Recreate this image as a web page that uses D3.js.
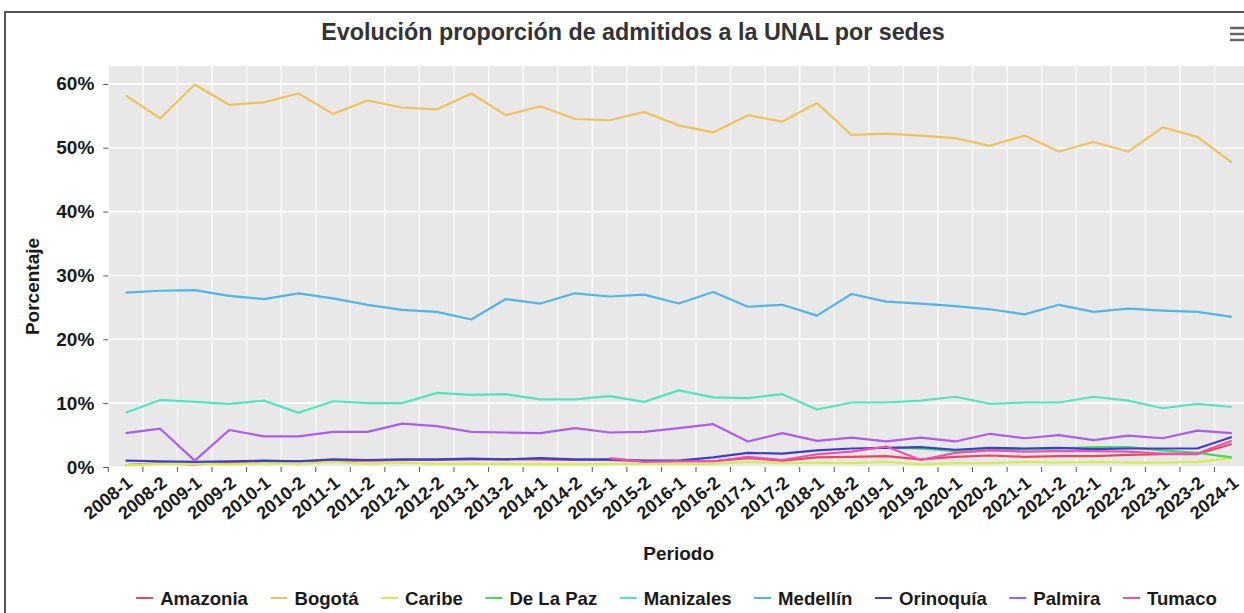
<!DOCTYPE html>
<html>
<head>
<meta charset="utf-8">
<script src="https://cdn.jsdelivr.net/npm/d3@7"></script>
<style>
  body { margin: 0; background: #fff; }
  svg { display: block; font-family: "Liberation Sans", Arial, sans-serif; }
</style>
</head>
<body>
<script>
// periodos academicos
var periods = ["2008-1","2008-2","2009-1","2009-2","2010-1","2010-2","2011-1","2011-2",
  "2012-1","2012-2","2013-1","2013-2","2014-1","2014-2","2015-1","2015-2","2016-1","2016-2",
  "2017-1","2017-2","2018-1","2018-2","2019-1","2019-2","2020-1","2020-2","2021-1","2021-2",
  "2022-1","2022-2","2023-1","2023-2","2024-1"];

// porcentaje de admitidos por sede
var amazonia = [0.3,0.6,0.4,0.7,0.8,0.9,1.0,1.0,1.1,1.1,1.2,1.2,1.2,1.1,1.1,0.9,0.9,0.9,
  1.4,1.0,1.5,1.6,1.7,1.2,1.6,1.8,1.6,1.7,1.7,1.9,2.0,2.0,3.6];
var bogota = [58.2,54.6,59.9,56.7,57.1,58.5,55.3,57.4,56.3,56.0,58.5,55.1,56.5,54.5,54.3,55.6,
  53.5,52.4,55.1,54.1,57.0,52.0,52.2,51.9,51.5,50.3,51.9,49.4,50.9,49.4,53.2,51.7,47.7];
var caribe = [0.3,0.5,0.5,0.4,0.6,0.5,0.8,0.5,0.7,0.5,0.5,0.5,0.4,0.4,0.5,0.5,0.5,0.5,
  0.8,0.6,0.7,0.6,0.8,0.4,0.6,0.6,0.8,0.7,0.8,0.7,0.7,0.8,1.4];
var delapaz = [null,null,null,null,null,null,null,null,null,null,null,null,null,null,null,null,
  null,null,null,null,null,null,3.0,2.9,2.5,2.7,2.8,2.9,3.1,3.1,2.6,2.2,1.5];
var manizales = [8.5,10.5,10.2,9.9,10.4,8.5,10.3,10.0,10.0,11.6,11.3,11.4,10.6,10.6,11.1,10.2,
  12.0,10.9,10.8,11.4,9.0,10.1,10.1,10.4,11.0,9.9,10.1,10.1,11.0,10.4,9.2,9.9,9.4];
var medellin = [27.3,27.6,27.7,26.8,26.3,27.2,26.4,25.4,24.6,24.3,23.1,26.3,25.6,27.2,26.7,27.0,
  25.6,27.4,25.1,25.4,23.7,27.1,25.9,25.6,25.2,24.7,23.9,25.4,24.3,24.8,24.5,24.3,23.5];
var orinoquia = [1.0,0.9,0.8,0.9,1.0,0.9,1.2,1.1,1.2,1.2,1.3,1.2,1.4,1.2,1.2,1.0,1.0,1.5,
  2.2,2.1,2.6,2.9,3.0,3.1,2.7,3.0,2.9,3.0,2.8,2.9,2.9,2.9,4.7];
var palmira = [5.3,6.0,1.0,5.8,4.8,4.8,5.5,5.5,6.8,6.4,5.5,5.4,5.3,6.1,5.4,5.5,6.1,6.7,
  4.0,5.3,4.1,4.6,4.0,4.6,4.0,5.2,4.5,5.0,4.2,4.9,4.5,5.7,5.3];
var tumaco = [null,null,null,null,null,null,null,null,null,null,null,null,null,null,1.4,0.8,
  0.9,0.9,1.6,1.1,2.0,2.4,3.2,1.1,2.2,2.6,2.4,2.5,2.5,2.4,2.1,2.1,4.1];

var yTicks = [0, 10, 20, 30, 40, 50, 60];

var series = [
  { name: "Amazonia",  color: "#e8475f", values: amazonia },
  { name: "Bogotá",    color: "#f0c25a", values: bogota },
  { name: "Caribe",    color: "#d6ee4a", values: caribe },
  { name: "De La Paz", color: "#3fdc62", values: delapaz },
  { name: "Manizales", color: "#4fe6bf", values: manizales },
  { name: "Medellín",  color: "#4fb6e8", values: medellin },
  { name: "Orinoquía", color: "#3b3fcf", values: orinoquia },
  { name: "Palmira",   color: "#ad5cf0", values: palmira },
  { name: "Tumaco",    color: "#ee50b8", values: tumaco }
];

var width = 1244, height = 613;
var plotLeft = 108.3, plotRight = 1249.1, plotTop = 66, plotBottom = 467;

var svg = d3.select("body").append("svg")
  .attr("width", width)
  .attr("height", height);

// marco
svg.append("rect")
  .attr("x", 5).attr("y", 12)
  .attr("width", 1300).attr("height", 700)
  .attr("fill", "none")
  .attr("stroke", "#555")
  .attr("stroke-width", 2);

var x = d3.scaleBand().domain(periods).range([plotLeft, plotRight]);
var y = d3.scaleLinear().domain([0, 62.8]).range([plotBottom, plotTop]);

// fondo del area
svg.append("rect")
  .attr("x", plotLeft).attr("y", plotTop)
  .attr("width", plotRight - plotLeft).attr("height", plotBottom - plotTop)
  .attr("fill", "#e8e8e8");

var edges = periods.map(function(p) { return x(p); }).concat([plotRight]);

svg.append("g").selectAll("line")
  .data(edges)
  .enter().append("line")
  .attr("x1", function(d) { return d; })
  .attr("x2", function(d) { return d; })
  .attr("y1", plotTop).attr("y2", plotBottom)
  .attr("stroke", "#fff")
  .attr("stroke-width", 1.2);

svg.append("g").selectAll("line")
  .data(yTicks)
  .enter().append("line")
  .attr("x1", plotLeft).attr("x2", plotRight)
  .attr("y1", function(d) { return y(d); })
  .attr("y2", function(d) { return y(d); })
  .attr("stroke", "#fff")
  .attr("stroke-width", 1.6);

// eje y
var yAxis = svg.append("g")
  .attr("transform", "translate(" + plotLeft + ",0)")
  .call(d3.axisLeft(y).tickValues(yTicks).tickSize(5).tickPadding(9)
    .tickFormat(function(d) { return d + "%"; }));
yAxis.select(".domain").remove();
yAxis.selectAll("line").attr("stroke", "#555");
yAxis.selectAll("text")
  .attr("font-size", 19)
  .attr("font-weight", "bold")
  .attr("fill", "#1a1a1a")
  .attr("font-family", "Liberation Sans, Arial, sans-serif");

// eje x
svg.append("g").selectAll("line")
  .data(edges)
  .enter().append("line")
  .attr("x1", function(d) { return d; })
  .attr("x2", function(d) { return d; })
  .attr("y1", plotBottom).attr("y2", plotBottom + 5)
  .attr("stroke", "#555");

var xAxis = svg.append("g")
  .attr("transform", "translate(0," + plotBottom + ")")
  .call(d3.axisBottom(x).tickSize(0).tickPadding(0));
xAxis.select(".domain").remove();
xAxis.selectAll("text")
  .attr("y", 0).attr("dy", "0.35em")
  .attr("text-anchor", "end")
  .attr("transform", "translate(4,13) rotate(-39)")
  .attr("font-size", 18)
  .attr("font-weight", "bold")
  .attr("fill", "#1a1a1a")
  .attr("font-family", "Liberation Sans, Arial, sans-serif");

// lineas
var line = d3.line()
  .defined(function(d) { return d != null; })
  .x(function(d, i) { return x(periods[i]) + x.bandwidth() / 2; })
  .y(function(d) { return y(d); });

svg.append("g").selectAll("path")
  .data(series)
  .enter().append("path")
  .attr("d", function(s) { return line(s.values); })
  .attr("fill", "none")
  .attr("stroke", function(s) { return s.color; })
  .attr("stroke-width", 2.2)
  .attr("stroke-linejoin", "round");

// titulos
svg.append("text")
  .attr("x", 633).attr("y", 40)
  .attr("text-anchor", "middle")
  .attr("font-size", 23.3)
  .attr("font-weight", "bold")
  .attr("fill", "#333")
  .text("Evolución proporción de admitidos a la UNAL por sedes");

svg.append("text")
  .attr("transform", "translate(39," + ((plotTop + plotBottom) / 2 + 20) + ") rotate(-90)")
  .attr("text-anchor", "middle")
  .attr("font-size", 19)
  .attr("font-weight", "bold")
  .attr("fill", "#1a1a1a")
  .text("Porcentaje");

svg.append("text")
  .attr("x", (plotLeft + plotRight) / 2).attr("y", 560)
  .attr("text-anchor", "middle")
  .attr("font-size", 19)
  .attr("font-weight", "bold")
  .attr("fill", "#1a1a1a")
  .text("Periodo");

// menu
svg.append("g").selectAll("line")
  .data([28, 34, 40])
  .enter().append("line")
  .attr("x1", 1230).attr("x2", 1250)
  .attr("y1", function(d) { return d; })
  .attr("y2", function(d) { return d; })
  .attr("stroke", "#666")
  .attr("stroke-width", 2.5);

// leyenda
var legend = svg.append("g");
var items = legend.selectAll("g")
  .data(series)
  .enter().append("g");

items.append("line")
  .attr("x1", 0).attr("x2", 17)
  .attr("y1", 598).attr("y2", 598)
  .attr("stroke", function(s) { return s.color; })
  .attr("stroke-width", 2);

items.append("text")
  .attr("x", 24).attr("y", 604.5)
  .attr("font-size", 18.6)
  .attr("font-weight", "bold")
  .attr("fill", "#1a1a1a")
  .text(function(s) { return s.name; });

var pos = 0;
items.each(function() {
  var g = d3.select(this);
  var w = g.select("text").node().getComputedTextLength();
  g.attr("transform", "translate(" + pos + ",0)");
  pos += 24 + w + 22.5;
});
pos -= 22.5;
legend.attr("transform", "translate(" + (676.5 - pos / 2) + ",0)");
</script>
</body>
</html>
